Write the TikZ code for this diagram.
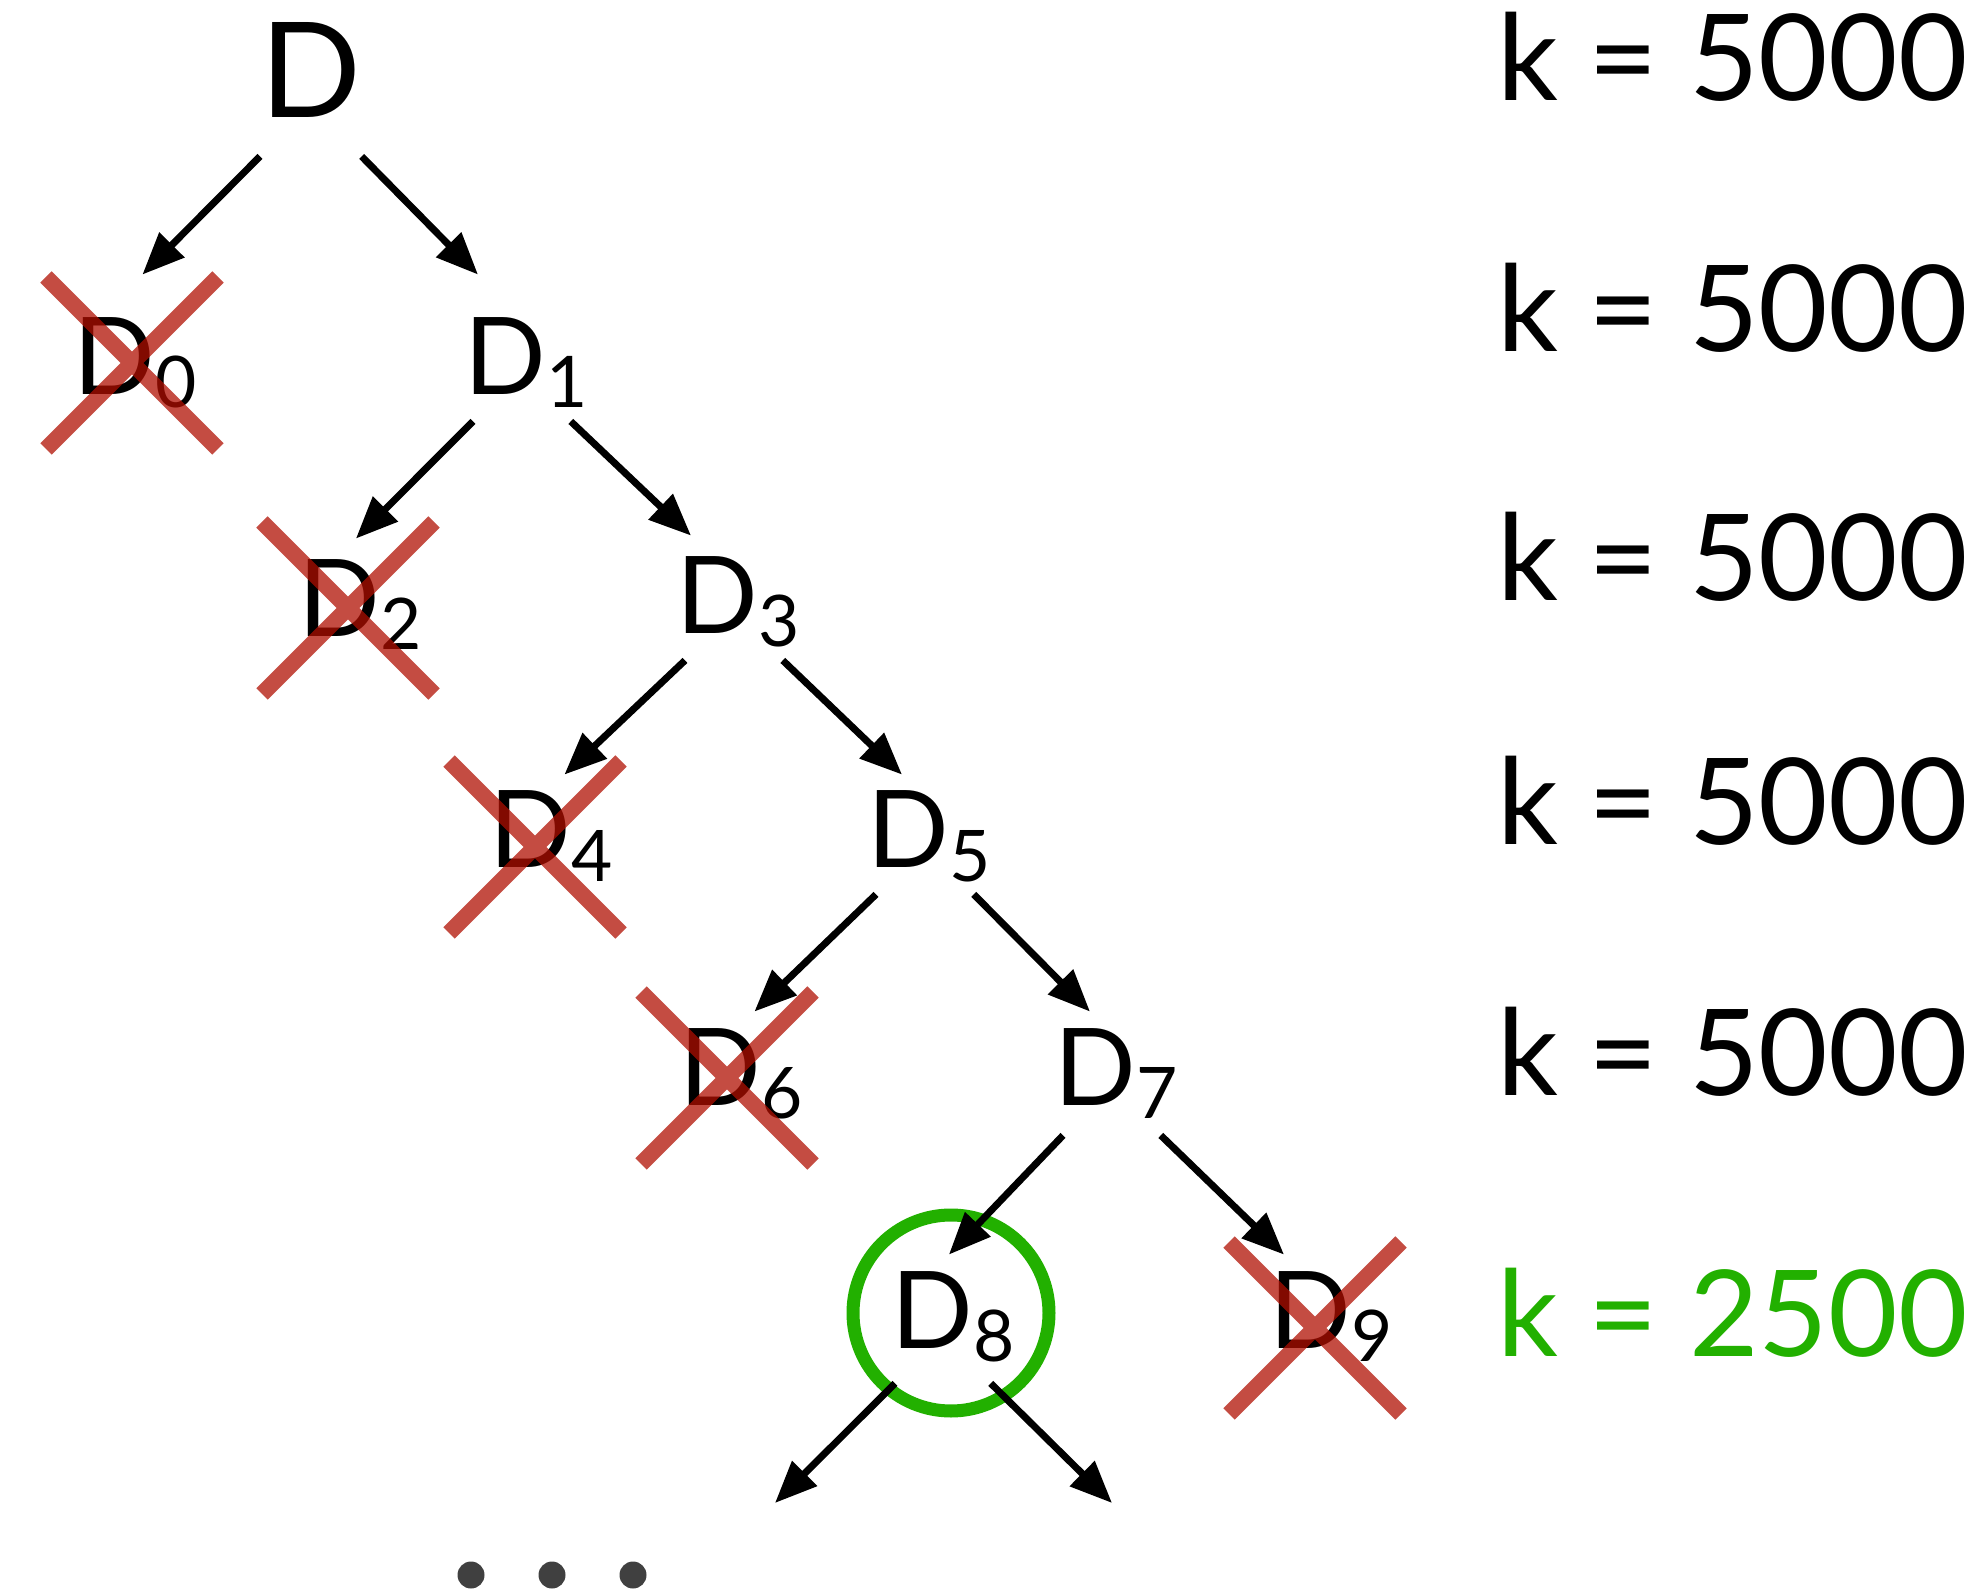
\documentclass[tikz,border=0pt]{standalone}
\usepackage{fontspec}
\setmainfont{Lato}
\usetikzlibrary{arrows.meta,shapes.misc}
\definecolor{Cross}{RGB}{176,14,0}
\definecolor{Pick}{HTML}{22B000}
\definecolor{Dots}{HTML}{404040}
\newcommand\dsub[1]{D\raisebox{-6.5pt}{\fontsize{35.6}{36}\selectfont #1}}
\tikzset{dnode/.style={anchor=base west,text width=57.5pt,align=left,inner xsep=-4.5pt,inner ysep=0pt,text height=46.5pt,text depth=13pt,font=\fontsize{53.7}{54}\selectfont},root/.style={anchor=base west,inner sep=0pt,text depth=19pt,font=\fontsize{66.3}{67}\selectfont},kval/.style={anchor=base east,inner sep=0pt,font=\fontsize{60}{61}\selectfont},xmark/.style={cross out,draw=Cross,draw opacity=.74,line width=8pt,minimum size=78pt,inner sep=0pt},ring/.style={circle,draw=Pick,line width=6.5pt,minimum size=98pt,inner sep=0pt},arr/.style={-{Triangle[length=21pt,width=17pt]},line width=3.5pt},dot/.style={circle,fill=Dots,minimum size=13.5pt,inner sep=0pt}}

\begin{document}
\begin{tikzpicture}[x=0.5pt,y=-0.5pt]
  \useasboundingbox (0,0) rectangle (1988,1593);
  % tree
  \node[root](d) at (260,118) {D};
  \node[dnode,text height=60pt](d0) at (82,395) {\dsub{0}};
  \node[dnode,text height=60pt](d1) at (473,395) {\dsub{1}};
  \node[dnode,text height=49pt](d2) at (307,637) {\dsub{2}};
  \node[dnode,text height=49pt](d3) at (685,634) {\dsub{3}};
  \node[dnode](d4) at (498,868) {\dsub{4}};
  \node[dnode](d5) at (876,868) {\dsub{5}};
  \node[dnode](d6) at (688,1105) {\dsub{6}};
  \node[dnode,text depth=15pt](d7) at (1063,1105) {\dsub{7}};
  \node[dnode,text depth=17.5pt](d8) at (900,1348) {\dsub{8}};
  \node[dnode](d9) at (1278,1348) {\dsub{9}};
  \node[ring](sel) at (951,1313) {};
  \coordinate (more1) at (775,1503);
  \coordinate (more2) at (1112,1503);
  \draw[arr](d.south west)--([xshift=5.75pt]d0.north);\draw[arr](d.south east)--([xshift=2.5pt]d1.north west);
  \draw[arr](d1.south west)--(d2.north);\draw[arr](d1.south east)--([xshift=3pt]d3.north west);
  \draw[arr](d3.south west)--([xshift=8.75pt]d4.north);\draw[arr](d3.south east)--([xshift=13pt]d5.north west);
  \draw[arr](d5.south west)--([xshift=8.75pt]d6.north);\draw[arr](d5.south east)--([xshift=13.5pt]d7.north west);
  \draw[arr](d7.south west)--(d8.north);\draw[arr](d7.south east)--([xshift=3pt]d9.north west);
  \draw[arr]([xshift=-2.5pt]d8.south west)--(more1);\draw[arr]([xshift=-3.5pt]d8.south east)--(more2);
  % pruned
  \node[xmark](x0) at (132,363) {};
  \node[xmark](x2) at (348,608) {};
  \node[xmark](x4) at (535,847) {};
  \node[xmark](x6) at (727,1078) {};
  \node[xmark](x9) at (1315,1328) {};
  \foreach \x [count=\i] in {471,552,633} \node[dot](dot\i) at (\x,1575) {};
  % k per level
  \foreach \y [count=\i] in {101,352,601,844,1095} \node[kval](k\i) at (1968,\y) {k = 5000};
  \node[kval,text=Pick](k6) at (1968,1356) {k = 2500};
\end{tikzpicture}
\end{document}
